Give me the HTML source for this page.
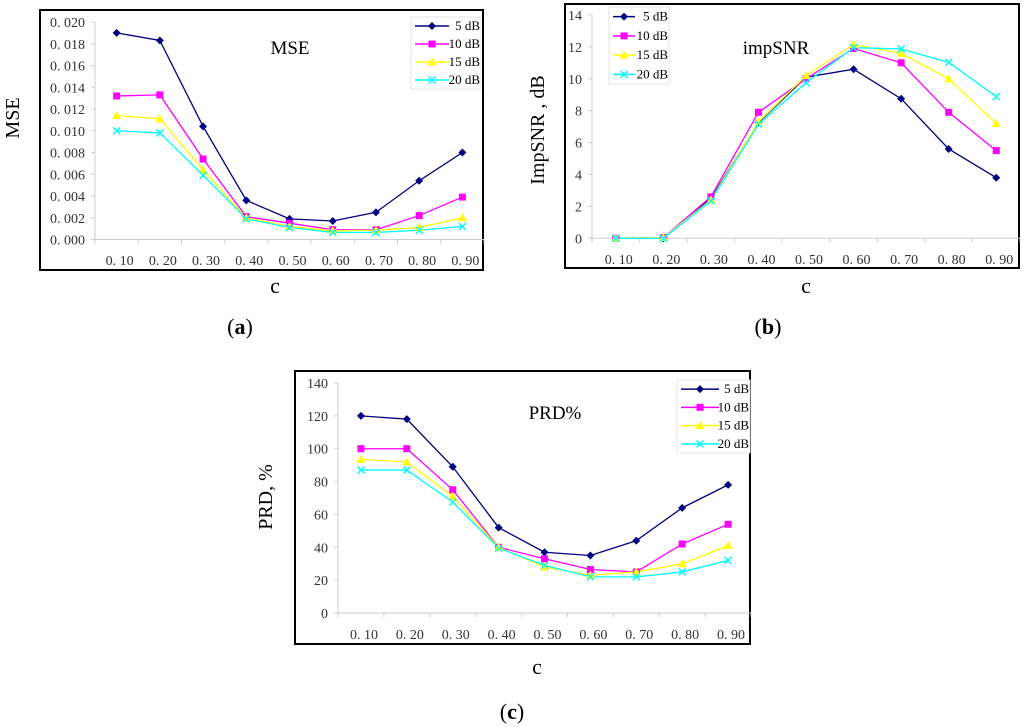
<!DOCTYPE html>
<html><head><meta charset="utf-8">
<style>
html,body{margin:0;padding:0;background:#fff;}
svg{display:block;font-family:"Liberation Serif","Noto Serif CJK SC",serif;}
</style></head>
<body>
<svg id="fig" width="1024" height="727" viewBox="0 0 1024 727" xmlns="http://www.w3.org/2000/svg"></svg>
<script>
const categories = ["0. 10","0. 20","0. 30","0. 40","0. 50","0. 60","0. 70","0. 80","0. 90"];
const seriesNames = ["5 dB","10 dB","15 dB","20 dB"];
const mse5  = [0.0190,0.0183,0.0104,0.0036,0.0019,0.0017,0.0025,0.0054,0.0080];
const mse10 = [0.0132,0.0133,0.0074,0.0021,0.0015,0.0009,0.0009,0.0022,0.0039];
const mse15 = [0.0114,0.0111,0.0064,0.0020,0.0012,0.0008,0.00085,0.0011,0.0020];
const mse20 = [0.0100,0.0098,0.0059,0.0019,0.0011,0.00065,0.00065,0.00085,0.0012];
const mseTicks = ["0. 000","0. 002","0. 004","0. 006","0. 008","0. 010","0. 012","0. 014","0. 016","0. 018","0. 020"];
const snr5  = [0,0,2.5,7.25,10.1,10.6,8.75,5.6,3.8];
const snr10 = [0,0.05,2.6,7.9,10.0,11.9,11.0,7.9,5.5];
const snr15 = [0,0.05,2.4,7.3,10.2,12.15,11.6,10.0,7.2];
const snr20 = [0,0,2.35,7.15,9.75,11.95,11.87,11.03,8.88];
const snrTicks = ["0","2","4","6","8","10","12","14"];
const prd5  = [120,118,89,52,37,35,44,64,78];
const prd10 = [100,100,75,40,33,26.5,25,42,54];
const prd15 = [93.5,92,71,40,28,23,25,30,41];
const prd20 = [87,87,67.5,39.5,29,22,22,25,32];
const prdTicks = ["0","20","40","60","80","100","120","140"];

const colors = ["#000080","#ff00ff","#ffff00","#00ffff"];
const NS="http://www.w3.org/2000/svg";
const svg=document.getElementById('fig');
function mk(tag,attrs,parent){const e=document.createElementNS(NS,tag);for(const k in attrs)e.setAttribute(k,attrs[k]);(parent||svg).appendChild(e);return e;}
function txt(x,y,s,size,anchor,parent,extra){const t=mk('text',Object.assign({x:x,y:y,'font-size':size,'text-anchor':anchor||'middle',fill:'#000'},extra||{}),parent);t.textContent=s;return t;}

function marker(g,i,x,y){
  const c=colors[i];let m;
  if(i===0){m=mk('polygon',{points:`${x},${y-4} ${x+4},${y} ${x},${y+4} ${x-4},${y}`,fill:c},g);}
  else if(i===1){m=mk('rect',{x:x-3.5,y:y-3.5,width:7,height:7,fill:c},g);}
  else if(i===2){m=mk('polygon',{points:`${x},${y-4.5} ${x+4.5},${y+3.5} ${x-4.5},${y+3.5}`,fill:c},g);}
  else {m=mk('path',{d:`M${x-3.5},${y-3.5}L${x+3.5},${y+3.5}M${x+3.5},${y-3.5}L${x-3.5},${y+3.5}`,stroke:c,'stroke-width':1.5,fill:'none'},g);}
  return m;
}

function chart(o){
  const g=mk('g',{});
  
  
  const fr=mk('rect',{x:o.fx,y:o.fy,width:o.fw,height:o.fh,fill:'none',stroke:'#000','stroke-width':2},g);
  
  const bw=(o.right-o.left)/categories.length;
  const xs=i=>o.left+bw*(i+0.5);
  const ys=v=>o.y0-(v/o.ymax)*(o.y0-o.ytop);
  const ax=mk('path',{d:`M${o.left},${o.ytop}V${o.y0}H${o.right}`,stroke:'#ccc','stroke-width':1,fill:'none'},g);
  
  for(let k=0;k<o.ticks.length;k++){
    const v=o.ymax*k/(o.ticks.length-1);
    mk('line',{x1:o.left-4,x2:o.left,y1:ys(v),y2:ys(v),stroke:'#ccc'},g);
    const t=txt(o.left-10,ys(v)+5,o.ticks[k],14,'end',g,{fill:'#333'});
    
  }
  for(let i=0;i<=categories.length;i++){
    const x=o.left+bw*i;mk('line',{x1:x,x2:x,y1:o.y0,y2:o.y0+4,stroke:'#ccc'},g);
  }
  categories.forEach((c,i)=>{
    const t=txt(xs(i)+3,o.tickY,c,14,'middle',g,{fill:'#333'});
    
  });
  o.series.forEach((arr,si)=>{
    const pts=arr.map((v,i)=>xs(i)+','+ys(v)).join(' ');
    const l=mk('polyline',{points:pts,fill:'none',stroke:colors[si],'stroke-width':1.3},g);
    
    
  });
  o.series.forEach((arr,si)=>{
    arr.forEach((v,i)=>{const m=marker(g,si,xs(i),ys(v));
      
      });
  });
  const lg=mk('g',{},g);
  
  mk('rect',{x:o.lx,y:o.ly,width:o.lw,height:o.lh,fill:'#fff',stroke:'#e4e4e4'},lg);
  seriesNames.forEach((n,si)=>{
    const yy=o.ly+o.lh*(si+0.5)/4;
    const e=mk('g',{},lg);
    
    mk('line',{x1:o.lx+4,x2:o.lx+o.lline,y1:yy,y2:yy,stroke:colors[si],'stroke-width':1.5},e);
    marker(e,si,o.lx+4+(o.lline-4)/2,yy);
    txt(o.lx+o.lw-1,yy+4,n,13,'end',e);
  });
  const tt=txt(o.tx,o.ty,o.title,19,'middle',g);
  
  const yt=txt(0,0,o.ytitle,20,'middle',g,{transform:`translate(${o.ytx},${o.yty}) rotate(-90)`});
  
  const xt=txt(o.xtx,o.xty,'c',22,'middle',g);
  
  const pl=mk('text',{x:o.px,y:o.py,'font-size':22,'text-anchor':'middle'},g);
  
  pl.innerHTML='(<tspan font-weight="bold">'+o.panel+'</tspan>)';
}

chart({name:'mse-chart',fx:40,fy:10,fw:443,fh:260,left:95,right:484,y0:239.5,ytop:22,ymax:0.020,ticks:mseTicks,
  series:[mse5,mse10,mse15,mse20],tickY:265,lx:411,ly:17,lw:70,lh:72,lline:38,
  title:'MSE',tx:290,ty:54,ytitle:'MSE',ytx:19,yty:118,xtx:275,xty:293,panel:'a',px:240,py:334});
chart({name:'impsnr-chart',fx:565,fy:4,fw:454,fh:264,left:592,right:1020,y0:238.3,ytop:15,ymax:14,ticks:snrTicks,
  series:[snr5,snr10,snr15,snr20],tickY:264,lx:609,ly:7,lw:60,lh:77,lline:26,
  title:'impSNR',tx:776,ty:54,ytitle:'ImpSNR , dB',ytx:544,yty:130,xtx:806,xty:293,panel:'b',px:768,py:334});
chart({name:'prd-chart',fx:295,fy:371,fw:455,fh:273,left:338,right:751,y0:613,ytop:383,ymax:140,ticks:prdTicks,
  series:[prd5,prd10,prd15,prd20],tickY:639,lx:677,ly:380,lw:73,lh:73,lline:42,
  title:'PRD%',tx:555,ty:419,ytitle:'PRD, %',ytx:272,yty:497,xtx:537,xty:674,panel:'c',px:512,py:719});
</script>
</body></html>
